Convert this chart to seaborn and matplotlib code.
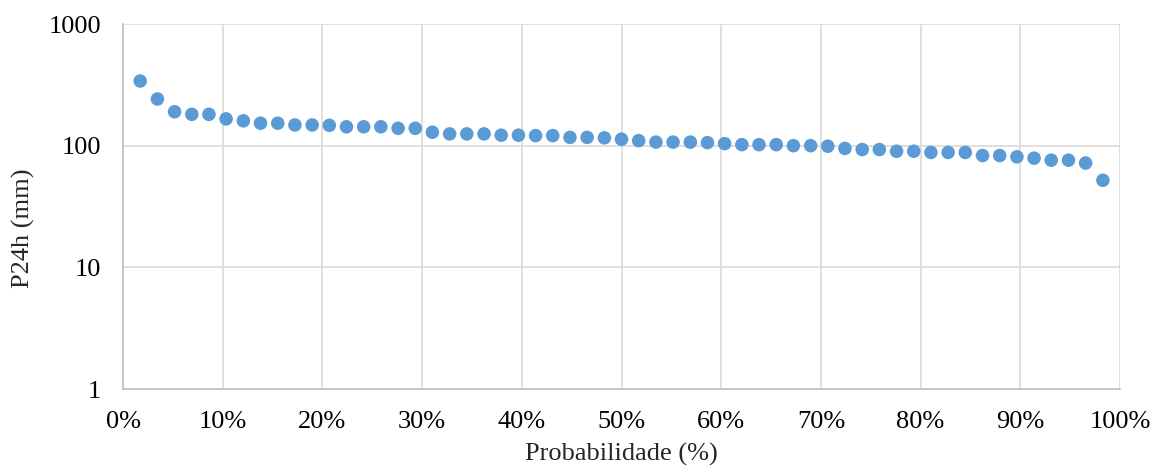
import matplotlib
matplotlib.use("Agg")
import matplotlib.pyplot as plt
import matplotlib.ticker as mticker
import seaborn as sns
import pandas as pd

probabilidade = [1.72, 3.45, 5.17, 6.90, 8.62, 10.34, 12.07, 13.79, 15.52, 17.24,
                 18.97, 20.69, 22.41, 24.14, 25.86, 27.59, 29.31, 31.03, 32.76, 34.48,
                 36.21, 37.93, 39.66, 41.38, 43.10, 44.83, 46.55, 48.28, 50.00, 51.72,
                 53.45, 55.17, 56.90, 58.62, 60.34, 62.07, 63.79, 65.52, 67.24, 68.97,
                 70.69, 72.41, 74.14, 75.86, 77.59, 79.31, 81.03, 82.76, 84.48, 86.21,
                 87.93, 89.66, 91.38, 93.10, 94.83, 96.55, 98.28]
p24h = [340, 242, 190, 181, 181, 166, 160, 153, 153, 148,
        148, 147, 143, 143, 143, 139, 139, 129, 125, 125,
        125, 122, 122, 121, 121, 117, 117, 116, 113, 110,
        107, 107, 107, 106, 104, 102, 102, 102, 100, 100,
        99, 95, 93, 93, 90, 90, 88, 88, 88, 83,
        83, 81, 79, 76, 76, 72, 52]
y_ticks = [1, 10, 100, 1000]
x_ticks = [0, 10, 20, 30, 40, 50, 60, 70, 80, 90, 100]

df = pd.DataFrame({"Probabilidade": probabilidade, "P24h": p24h})

sns.set_style("white")
plt.rcParams["font.family"] = ["Liberation Serif", "DejaVu Serif"]

fig = plt.figure(figsize=(11.53, 4.70), dpi=100)
ax = fig.add_axes([0.1067, 0.1723, 0.8647, 0.7766])

sns.scatterplot(data=df, x="Probabilidade", y="P24h", ax=ax, color="#5B9BD5",
                s=95, edgecolor="none", linewidth=0, zorder=3, clip_on=False)

ax.set_yscale("log")
ax.set_ylim(1, 1000)
ax.set_xlim(0, 100)
ax.set_yticks(y_ticks)
ax.yaxis.set_major_formatter(mticker.FuncFormatter(lambda v, p: f"{int(v)}"))
ax.yaxis.set_minor_locator(mticker.NullLocator())
ax.set_xticks(x_ticks)
ax.set_xticklabels([f"{t}%" for t in x_ticks])

ax.grid(True, color="#D9D9D9", linewidth=1.2, zorder=0)
ax.set_axisbelow(True)
for side in ["top", "right"]:
    ax.spines[side].set_visible(False)
for side in ["left", "bottom"]:
    ax.spines[side].set_color("#BFBFBF")
    ax.spines[side].set_linewidth(1.2)

ax.tick_params(axis="both", length=0, labelsize=19, colors="#000000")
ax.tick_params(axis="y", pad=16)
ax.tick_params(axis="x", pad=16)
ax.set_xlabel("Probabilidade (%)", fontsize=19)
ax.set_ylabel("P24h (mm)", fontsize=19)
ax.xaxis.set_label_coords(0.5, -0.148)
ax.yaxis.set_label_coords(-0.088, 0.44)

fig.savefig("out.png", dpi=100)
